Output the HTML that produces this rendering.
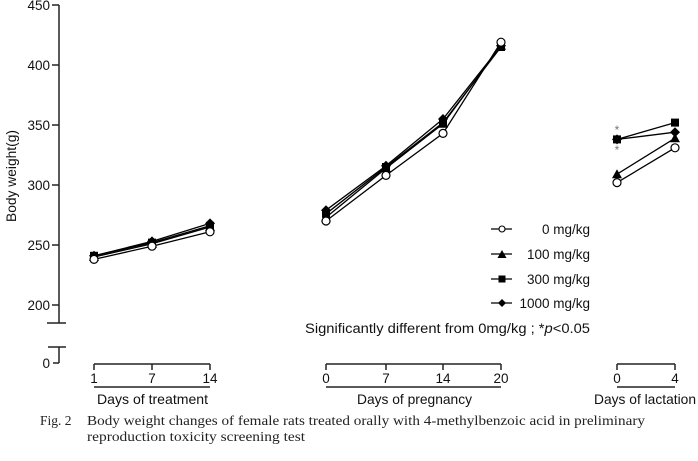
<!DOCTYPE html>
<html><head><meta charset="utf-8"><style>
html,body{margin:0;padding:0;background:#fff;}
svg{display:block;}
text{font-family:"Liberation Sans",sans-serif;fill:#111;}
.cap{font-family:"Liberation Serif",serif;fill:#222;}
</style></head><body>
<svg width="698" height="461" viewBox="0 0 698 461" xmlns="http://www.w3.org/2000/svg">
<defs>
<g id="c"><circle r="4" fill="#fff" stroke="#000" stroke-width="1.2"/></g>
<g id="t"><polygon points="0,-5 -5,4 5,4" fill="#000"/></g>
<g id="s"><rect x="-4" y="-4" width="8" height="8" fill="#000"/></g>
<g id="d"><polygon points="0,-5 5,0 0,5 -5,0" fill="#000"/></g>
</defs>
<!-- Y axis -->
<g stroke="#222" stroke-width="1.5" fill="none">
<line x1="59" y1="5" x2="59" y2="323"/>
<line x1="47" y1="323" x2="66" y2="323"/>
<line x1="48" y1="347" x2="66" y2="347"/>
<line x1="59" y1="347" x2="59" y2="363"/>
<line x1="53" y1="363" x2="59" y2="363"/>
<line x1="52" y1="5" x2="59" y2="5"/>
<line x1="52" y1="65" x2="59" y2="65"/>
<line x1="52" y1="125" x2="59" y2="125"/>
<line x1="52" y1="185" x2="59" y2="185"/>
<line x1="52" y1="245" x2="59" y2="245"/>
<line x1="52" y1="305" x2="59" y2="305"/>
</g>
<g font-size="13.5" text-anchor="end">
<text x="50" y="10">450</text>
<text x="50" y="70">400</text>
<text x="50" y="130">350</text>
<text x="50" y="190">300</text>
<text x="50" y="250">250</text>
<text x="50" y="310">200</text>
<text x="50" y="368">0</text>
</g>
<text font-size="13.5" transform="translate(16,176) rotate(-90)" text-anchor="middle" textLength="92" lengthAdjust="spacingAndGlyphs">Body weight(g)</text>
<!-- X axes -->
<g stroke="#222" stroke-width="1.5" fill="none">
<line x1="94" y1="364" x2="210" y2="364"/>
<line x1="94" y1="364" x2="94" y2="370"/><line x1="152" y1="364" x2="152" y2="370"/><line x1="210" y1="364" x2="210" y2="370"/>
<line x1="94" y1="387" x2="210" y2="387"/>
<line x1="326" y1="364" x2="501" y2="364"/>
<line x1="326" y1="364" x2="326" y2="370"/><line x1="386" y1="364" x2="386" y2="370"/><line x1="443" y1="364" x2="443" y2="370"/><line x1="501" y1="364" x2="501" y2="370"/>
<line x1="326" y1="387" x2="501" y2="387"/>
<line x1="617" y1="364" x2="675" y2="364"/>
<line x1="617" y1="364" x2="617" y2="370"/><line x1="675" y1="364" x2="675" y2="370"/>
<line x1="617" y1="387" x2="675" y2="387"/>
</g>
<g font-size="13.5" text-anchor="middle">
<text x="94" y="383">1</text><text x="152" y="383">7</text><text x="210" y="383">14</text>
<text x="326" y="383">0</text><text x="386" y="383">7</text><text x="443" y="383">14</text><text x="501" y="383">20</text>
<text x="617" y="383">0</text><text x="675" y="383">4</text>
</g>
<g font-size="14">
<text x="97" y="404" textLength="111" lengthAdjust="spacingAndGlyphs">Days of treatment</text>
<text x="357" y="404" textLength="115" lengthAdjust="spacingAndGlyphs">Days of pregnancy</text>
<text x="594" y="404" textLength="102" lengthAdjust="spacingAndGlyphs">Days of lactation</text>
</g>
<!-- series lines -->
<g stroke="#000" stroke-width="1.3" fill="none">
<polyline points="94,259.4 152,246.2 210,231.8"/>
<polyline points="94,257 152,243.8 210,227"/>
<polyline points="94,255.8 152,242.6 210,225.8"/>
<polyline points="94,255.8 152,241.4 210,223.4"/>
<polyline points="326,221 386,175.4 443,133.4 501,42.2"/>
<polyline points="326,217.4 386,168.2 443,123.8 501,45.8"/>
<polyline points="326,213.8 386,167 443,122.6 501,47"/>
<polyline points="326,210.2 386,165.8 443,119 501,45.8"/>
<polyline points="617,182.6 675,147.8"/>
<polyline points="617,174.2 675,138.2"/>
<polyline points="617,139.4 675,122.6"/>
<polyline points="617,139.4 675,132.2"/>
</g>
<!-- markers -->
<use href="#d" x="94" y="255.8"/><use href="#d" x="152" y="241.4"/><use href="#d" x="210" y="223.4"/>
<use href="#s" x="94" y="255.8"/><use href="#s" x="152" y="242.6"/><use href="#s" x="210" y="225.8"/>
<use href="#t" x="94" y="257"/><use href="#t" x="152" y="243.8"/><use href="#t" x="210" y="227"/>
<use href="#c" x="94" y="259.4"/><use href="#c" x="152" y="246.2"/><use href="#c" x="210" y="231.8"/>

<use href="#d" x="326" y="210.2"/><use href="#d" x="386" y="165.8"/><use href="#d" x="443" y="119"/><use href="#d" x="501" y="45.8"/>
<use href="#s" x="326" y="213.8"/><use href="#s" x="386" y="167"/><use href="#s" x="443" y="122.6"/><use href="#s" x="501" y="47"/>
<use href="#t" x="326" y="217.4"/><use href="#t" x="386" y="168.2"/><use href="#t" x="443" y="123.8"/><use href="#t" x="501" y="45.8"/>
<use href="#c" x="326" y="221"/><use href="#c" x="386" y="175.4"/><use href="#c" x="443" y="133.4"/><use href="#c" x="501" y="42.2"/>

<use href="#d" x="617" y="139.4"/><use href="#d" x="675" y="132.2"/>
<use href="#s" x="617" y="139.4"/><use href="#s" x="675" y="122.6"/>
<use href="#t" x="617" y="174.2"/><use href="#t" x="675" y="138.2"/>
<use href="#c" x="617" y="182.6"/><use href="#c" x="675" y="147.8"/>
<text x="617" y="134" font-size="12" text-anchor="middle" style="fill:#777">*</text>
<text x="617" y="154" font-size="12" text-anchor="middle" style="fill:#777">*</text>
<!-- legend -->
<g stroke="#000" stroke-width="1.2">
<line x1="491" y1="229" x2="512" y2="229"/>
<line x1="491" y1="254" x2="512" y2="254"/>
<line x1="491" y1="279" x2="512" y2="279"/>
<line x1="491" y1="303" x2="512" y2="303"/>
</g>
<circle cx="502" cy="229" r="3" fill="#fff" stroke="#000" stroke-width="1.1"/>
<polygon points="502,250 497.5,258 506.5,258" fill="#000"/>
<rect x="498.5" y="275.5" width="7" height="7" fill="#000"/>
<polygon points="502,299 506,303 502,307 498,303" fill="#000"/>
<g font-size="13.5" text-anchor="end">
<text x="590" y="234">0 mg/kg</text>
<text x="590" y="259">100 mg/kg</text>
<text x="590" y="284">300 mg/kg</text>
<text x="590" y="308">1000 mg/kg</text>
</g>
<text x="305" y="333" font-size="13.5" textLength="285" lengthAdjust="spacingAndGlyphs">Significantly different from 0mg/kg ; *<tspan font-style="italic">p</tspan>&lt;0.05</text>
<!-- caption -->
<text class="cap" x="40" y="425" font-size="13.5">Fig. 2</text>
<text class="cap" x="87" y="425" font-size="13.5" textLength="558" lengthAdjust="spacingAndGlyphs">Body weight changes of female rats treated orally with 4-methylbenzoic acid in preliminary</text>
<text class="cap" x="87" y="441" font-size="13.5" textLength="218" lengthAdjust="spacingAndGlyphs">reproduction toxicity screening test</text>
</svg>
</body></html>
